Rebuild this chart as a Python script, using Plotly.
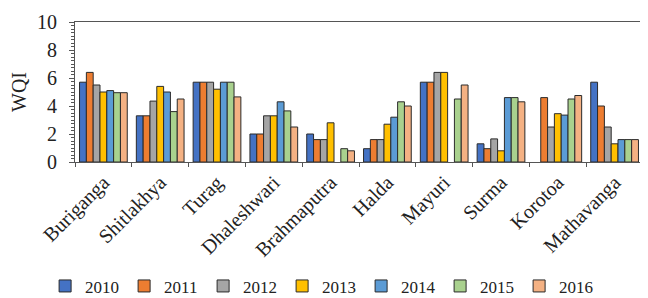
import plotly.graph_objects as go

rivers = ["Buriganga", "Shitlakhya", "Turag", "Dhaleshwari", "Brahmaputra",
          "Halda", "Mayuri", "Surma", "Korotoa", "Mathavanga"]
years = ["2010", "2011", "2012", "2013", "2014", "2015", "2016"]

wqi_2010 = [5.7, 3.3, 5.7, 2.0, 2.0, 0.95, 5.7, 1.3, None, 5.7]
wqi_2011 = [6.4, 3.3, 5.7, 2.0, 1.6, 1.6, 5.7, 0.95, 4.6, 4.0]
wqi_2012 = [5.5, 4.35, 5.7, 3.3, 1.6, 1.6, 6.4, 1.65, 2.5, 2.5]
wqi_2013 = [5.0, 5.4, 5.2, 3.3, 2.8, 2.7, 6.4, 0.8, 3.45, 1.3]
wqi_2014 = [5.1, 5.0, 5.7, 4.3, None, 3.2, None, 4.6, 3.35, 1.6]
wqi_2015 = [4.95, 3.6, 5.7, 3.65, 0.95, 4.3, 4.5, 4.6, 4.5, 1.6]
wqi_2016 = [4.95, 4.5, 4.65, 2.5, 0.8, 4.0, 5.5, 4.3, 4.75, 1.6]

series = [wqi_2010, wqi_2011, wqi_2012, wqi_2013, wqi_2014, wqi_2015, wqi_2016]
colors = ["#4472C4", "#ED7D31", "#A5A5A5", "#FFC000", "#5B9BD5", "#A9D18E", "#F4B183"]

font_family = "Liberation Serif"

fig = go.Figure()
for yr, vals, col in zip(years, series, colors):
    fig.add_trace(go.Bar(
        x=rivers, y=vals, name=yr,
        marker=dict(color=col, line=dict(color="#2b2b2b", width=1)),
    ))

fig.update_layout(
    width=640, height=290,
    margin=dict(l=67, r=5, t=14, b=136, autoexpand=False),
    paper_bgcolor="white", plot_bgcolor="white",
    barmode="group", bargap=0.16, bargroupgap=0,
    font=dict(family=font_family, size=18, color="#222222"),
    showlegend=True,
    legend=dict(orientation="h", xref="container", yref="container",
                x=0.49, xanchor="center", y=0.04, yanchor="middle",
                font=dict(size=17, family=font_family),
                entrywidth=34, entrywidthmode="pixels",
                tracegroupgap=0, traceorder="normal"),
)
fig.update_xaxes(
    tickangle=-45, tickfont=dict(size=20, family=font_family),
    showline=True, linecolor="#555555", linewidth=1, mirror=True,
    ticks="outside", ticklen=4, tickcolor="#555555",
    tickson="boundaries", automargin=False,
)
fig.update_yaxes(
    range=[0, 10], dtick=2, showgrid=False, zeroline=False,
    showline=True, linecolor="#555555", linewidth=1, mirror=True,
    ticks="outside", ticklen=5, tickcolor="#555555",
    tickfont=dict(size=20, family=font_family), ticklabelstandoff=8,
    minor=dict(dtick=0.25, ticks="outside", ticklen=3, tickcolor="#555555"),
    title=dict(text="WQI", font=dict(size=20, family=font_family), standoff=10),
    automargin=False,
)

fig.write_html("out.html")
